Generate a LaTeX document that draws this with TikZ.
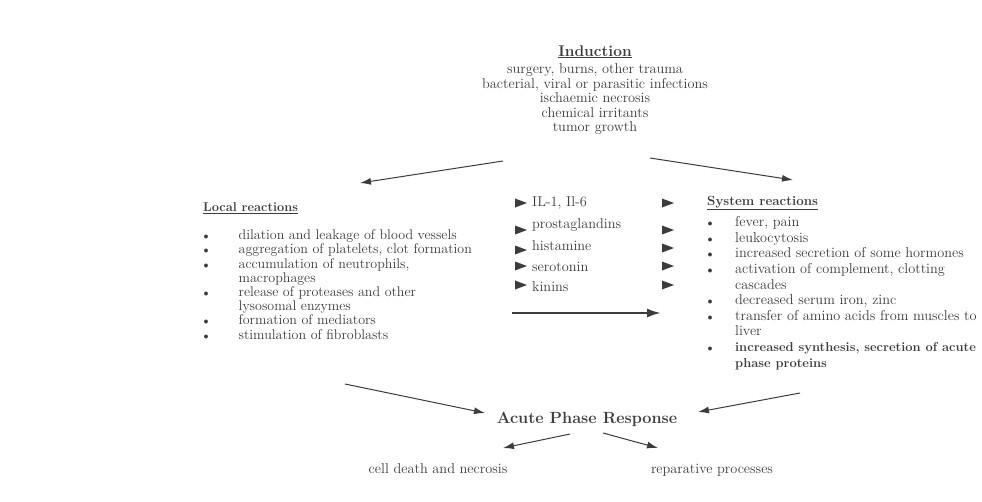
\documentclass[tikz,border=0pt]{standalone}
\usepackage{xcolor}
\usetikzlibrary{arrows.meta}
\definecolor{ink}{HTML}{3C3C3C}
\newcommand{\dotitem}{{\fontsize{10}{10}\selectfont$\bullet$}}
\newcommand{\boldline}[1]{{\fontsize{12.9}{15.6}\selectfont\bfseries #1}}

\begin{document}
\begin{tikzpicture}[x=1pt,y=-1pt,
    every node/.style={text=ink,inner sep=0pt},
    txt/.style={font=\fontsize{14.3}{14.5}\selectfont},
    hd/.style={font=\fontsize{12.8}{14.5}\selectfont\bfseries},
    flow/.style={draw=ink,line width=1pt,-{Latex[length=11pt,width=7pt]}}]
    \useasboundingbox[fill=white] (0,0) rectangle (982,501);

    % induction
    \node[font=\fontsize{15.5}{16}\selectfont\bfseries,anchor=base] (ind) at (595,56) {\underline{Induction}};
    \node[txt,align=center,anchor=north] (causes) at (595,63.5) {
      surgery, burns, other trauma\\
      bacterial, viral or parasitic infections\\
      ischaemic necrosis\\
      chemical irritants\\
      tumor growth
    };

    % local reactions
    \node[hd,anchor=base west] (loc) at (203,211.5) {\underline{Local reactions}};
    \node[anchor=north west,font=\fontsize{14}{14.2}\selectfont] (loclist) at (203.5,229.5) {
      \begin{tabular}{@{}l@{\hspace{30pt}}l@{}}
        \dotitem & dilation and leakage of blood vessels \\
        \dotitem & aggregation of platelets, clot formation \\
        \dotitem & accumulation of neutrophils, \\
                 & macrophages \\
        \dotitem & release of proteases and other \\
                 & lysosomal enzymes \\
        \dotitem & formation of mediators \\
        \dotitem & stimulation of fibroblasts
      \end{tabular}
    };

    % mediators
    \node[txt,anchor=base west] (il)   at (532,206.5) {IL-1, Il-6};
    \node[txt,anchor=base west] (pg)   at (532,228.5) {prostaglandins};
    \node[txt,anchor=base west] (hist) at (532,250.5) {histamine};
    \node[txt,anchor=base west] (sero) at (532,271.5) {serotonin};
    \node[txt,anchor=base west] (kin)  at (532,291.5) {kinins};
    \foreach \y in {203,230,250,266,285}
      \fill[ink] (527,\y) -- ++(-12,-4.5) -- ++(0,9) -- cycle;
    \foreach \y in {203,230,248,266,285}
      \fill[ink] (674,\y) -- ++(-12,-4.5) -- ++(0,9) -- cycle;

    % system reactions
    \node[hd,anchor=base west,font=\fontsize{13.3}{14.5}\selectfont\bfseries] (sys) at (707,205.5) {\underline{System reactions}};
    \node[anchor=north west,font=\fontsize{14.3}{15.6}\selectfont] (syslist) at (707.5,215.6) {
      \begin{tabular}{@{}l@{\hspace{22.5pt}}l@{}}
        \dotitem & fever, pain \\
        \dotitem & leukocytosis \\
        \dotitem & increased secretion of some hormones \\
        \dotitem & activation of complement, clotting \\
                 & cascades \\
        \dotitem & decreased serum iron, zinc \\
        \dotitem & transfer of amino acids from muscles to \\
                 & liver \\
        \dotitem & \boldline{increased synthesis, secretion of acute} \\
                 & \boldline{phase proteins}
      \end{tabular}
    };

    % response and outcomes
    \node[font=\fontsize{16.2}{18}\selectfont\bfseries,anchor=base] (apr) at (587,423.5) {Acute Phase Response};
    \node[txt,anchor=base] (death) at (438,473.5) {cell death and necrosis};
    \node[txt,anchor=base] (repair) at (712,473.5) {reparative processes};

    % arrow ends
    \coordinate (indL) at (503,161);
    \coordinate (locT) at (360,183);
    \coordinate (indR) at (650,158);
    \coordinate (sysT) at (793,180);
    \coordinate (locB) at (345,384);
    \coordinate (aprL) at (485,413);
    \coordinate (sysB) at (800,393);
    \coordinate (aprR) at (698,412);
    \coordinate (aprBL) at (570,434);
    \coordinate (deathT) at (503,448);
    \coordinate (aprBR) at (603,433);
    \coordinate (repairT) at (658,448);
    \coordinate (medL) at (512,313);
    \coordinate (medR) at (661,313);

    \draw[flow] (indL) -- (locT);
    \draw[flow] (indR) -- (sysT);
    \draw[flow] (locB) -- (aprL);
    \draw[flow] (sysB) -- (aprR);
    \draw[flow] (aprBL) -- (deathT);
    \draw[flow] (aprBR) -- (repairT);
    \draw[flow,line width=2.2pt,-{Latex[length=14pt,width=9pt]}] (medL) -- (medR);
\end{tikzpicture}
\end{document}
